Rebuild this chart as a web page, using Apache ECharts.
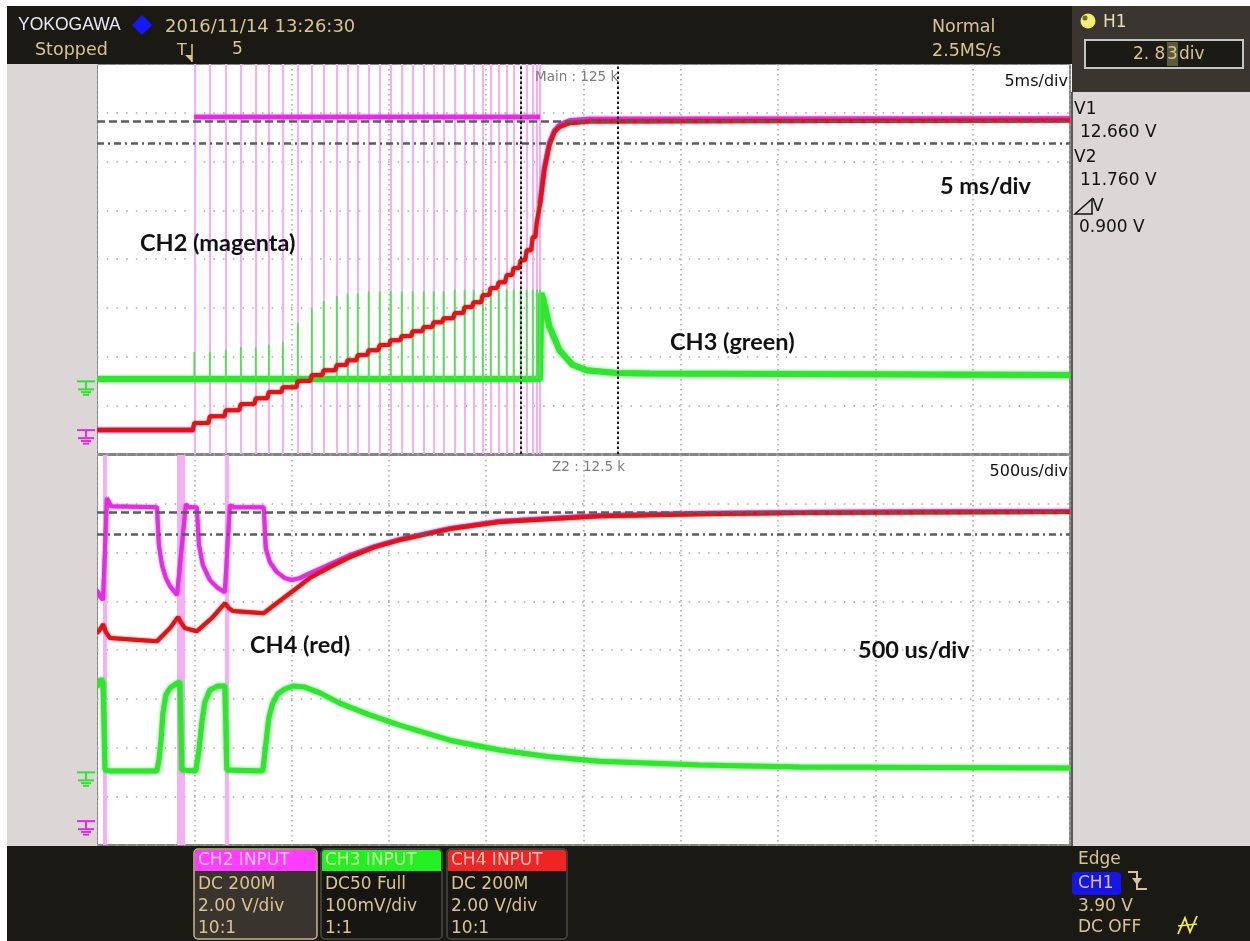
<!DOCTYPE html>
<html>
<head>
<meta charset="utf-8">
<script src="https://cdn.jsdelivr.net/npm/echarts/dist/echarts.min.js"></script>
<style>
  html, body { margin: 0; padding: 0; background: #ffffff; }
  #chart { width: 1250px; height: 941px; }
</style>
</head>
<body>
<div id="chart"></div>
<script>
// ---------------- Acquisition settings ----------------
const zoomStartMs = 16.75;          // zoom window (Z2) start, ms after trigger
const zoomEndMs = 21.75;            // zoom window end
const cursorV1 = 12.66;             // horizontal cursor V1
const cursorV2 = 11.76;             // horizontal cursor V2

// ---------------- Main window, 5 ms/div (time in ms after trigger) ----------------
// gate bursts on CH2
const mainBurstMs = [0.00, 0.80, 1.62, 2.39, 3.16, 3.83, 4.55, 5.32, 6.04, 6.65,
  7.32, 7.88, 8.40, 8.96, 9.53, 10.09, 10.66, 11.22, 11.79, 12.30,
  12.81, 13.38, 13.89, 14.35, 14.82, 15.23, 15.64, 16.05, 16.41, 16.77,
  17.08, 17.39, 17.60, 17.76];
// CH4 level reached at each burst (V)
const mainCh4StepV = [0.29, 0.57, 0.82, 1.07, 1.31, 1.56, 1.76, 2.01, 2.26, 2.46,
  2.67, 2.87, 3.08, 3.28, 3.49, 3.69, 3.86, 4.06, 4.23, 4.43,
  4.59, 4.80, 5.05, 5.25, 5.54, 5.83, 6.07, 6.36, 6.65, 6.97,
  7.38, 7.92, 8.53, 9.23];
// CH3 current spike at each burst (mV)
const mainCh3SpikeMv = [60, 60, 65, 70, 70, 75, 80, 120, 150, 165,
  175, 180, 180, 185, 185, 185, 185, 185, 185, 185,
  185, 188, 188, 188, 188, 188, 188, 188, 188, 188,
  188, 188, 188, 188];
const mainCh2HighV = 12.85;
const mainCh3BaseMv = 5;
// final settling after the last burst
const mainCh4SettleMs = [17.99, 18.25, 18.51, 18.76, 19.28, 20.30, 45.0];
const mainCh4SettleV = [10.67, 11.69, 12.23, 12.43, 12.59, 12.66, 12.70];
const mainCh2SettleMs = [17.76, 17.99, 18.25, 18.51, 18.76, 19.28, 20.30, 45.0];
const mainCh2SettleV = [9.30, 10.80, 11.80, 12.30, 12.52, 12.70, 12.76, 12.78];
const mainCh3DecayMs = [17.83, 17.94, 18.25, 18.76, 19.43, 20.15, 21.69, 23.38, 45.0];
const mainCh3DecayMv = [181, 167, 112, 64, 34, 23, 17, 16, 13];

// ---------------- Zoom window Z2, 500 us/div ----------------
const zoomBurstStartMs = [16.781, 17.161, 17.407];
const zoomBurstEndMs = [16.801, 17.202, 17.428];

const zoomCh2Ms = [16.750, 16.765, 16.781, 16.801, 16.822, 17.058, 17.068, 17.084, 17.104, 17.125,
  17.150, 17.161, 17.207, 17.222, 17.263, 17.274, 17.294, 17.330, 17.371, 17.407,
  17.433, 17.453, 17.607, 17.617, 17.638, 17.674, 17.715, 17.751, 17.792, 17.843,
  17.946, 18.049, 18.177, 18.305, 18.562, 18.819, 19.332, 19.845, 20.359, 20.872, 21.750];
const zoomCh2V = [9.48, 9.23, 9.07, 13.25, 12.92, 12.88, 11.32, 10.50, 9.97, 9.64,
  9.39, 9.27, 13.00, 12.88, 12.88, 11.32, 10.50, 9.89, 9.56, 9.39,
  12.96, 12.88, 12.88, 11.20, 10.63, 10.22, 9.97, 9.89, 9.97, 10.17,
  10.54, 10.91, 11.28, 11.57, 12.02, 12.31, 12.55, 12.64, 12.68, 12.70, 12.72];

const zoomCh4Ms = [16.750, 16.771, 16.781, 16.796, 16.817, 17.058, 17.125, 17.166, 17.181, 17.202,
  17.263, 17.340, 17.407, 17.428, 17.448, 17.607, 17.674, 17.776, 17.843, 17.946,
  18.049, 18.177, 18.305, 18.562, 18.819, 19.332, 19.845, 20.359, 20.872, 21.750];
const zoomCh4V = [7.71, 7.92, 8.08, 7.75, 7.51, 7.38, 7.92, 8.37, 8.16, 7.92,
  7.79, 8.33, 8.94, 8.74, 8.62, 8.53, 8.94, 9.56, 9.97, 10.42,
  10.83, 11.24, 11.53, 11.98, 12.27, 12.51, 12.59, 12.64, 12.66, 12.68];

const zoomCh3Ms = [16.750, 16.771, 16.781, 16.791, 16.817, 17.058, 17.068, 17.079, 17.089, 17.104,
  17.125, 17.161, 17.176, 17.186, 17.258, 17.274, 17.289, 17.304, 17.330, 17.371,
  17.407, 17.417, 17.602, 17.617, 17.633, 17.653, 17.679, 17.715, 17.756, 17.818,
  17.895, 17.997, 18.151, 18.305, 18.562, 18.819, 19.075, 19.332, 19.845, 20.359, 21.750];
const zoomCh3Mv = [175, 192, 185, 5, 3, 3, 25, 66, 122, 159,
  173, 183, 185, 5, 3, 46, 103, 144, 169, 177,
  177, 5, 3, 56, 112, 142, 161, 171, 177, 175,
  163, 142, 118, 97, 66, 46, 32, 23, 15, 11, 9];

// ---------------- Screen layout ----------------
const PLOT_L = 97, PLOT_W = 973, PLOT_H = 390;
const TOP_MAIN = 64, TOP_ZOOM = 455;
const DIVS_Y = 8, DIVS_X = 10;
const VOLT_PER_DIV = 2, MV_PER_DIV = 100;
const GND_CH24_DIV = 0.49, GND_CH3_DIV = 1.49;   // ground marker height above bottom, in divisions

const voltMin = -GND_CH24_DIV * VOLT_PER_DIV, voltMax = (DIVS_Y - GND_CH24_DIV) * VOLT_PER_DIV;
const mvMin = -GND_CH3_DIV * MV_PER_DIV, mvMax = (DIVS_Y - GND_CH3_DIV) * MV_PER_DIV;

const C_MAG = '#e42ce4', C_RED = '#e01414', C_GRN = '#2ee62e', C_PINK = '#f6aef6';
const TAN = '#d8c48e';
const PANEL_FONT = '"DejaVu Sans", sans-serif';

// ---------------- Traces built from the readings ----------------
const zip = (xs, ys) => xs.map((x, i) => [x, ys[i]]);

function mainCh4Trace() {
  const pts = [[-5, 0]];
  let prev = 0;
  mainBurstMs.forEach((t, i) => {
    pts.push([t - 0.08, prev], [t, mainCh4StepV[i]]);
    prev = mainCh4StepV[i];
  });
  return pts.concat(zip(mainCh4SettleMs, mainCh4SettleV));
}
function mainCh2Trace() {
  // the edges at the first and last burst are hidden under the burst lines
  const first = mainBurstMs[0], last = mainBurstMs[mainBurstMs.length - 1];
  const pts = [[-5, 0], [first, 0], [first, '-'], [first, mainCh2HighV], [last, mainCh2HighV], [last, '-']];
  return pts.concat(zip(mainCh2SettleMs, mainCh2SettleV));
}
function mainCh3Trace() {
  const last = mainBurstMs[mainBurstMs.length - 1];
  return [[-5, mainCh3BaseMv], [last, mainCh3BaseMv]].concat(zip(mainCh3DecayMs, mainCh3DecayMv));
}
function mainCh3Spikes() {
  const pts = [];
  mainBurstMs.forEach((t, i) => pts.push([t, mainCh3BaseMv], [t, mainCh3SpikeMv[i]], [t, '-']));
  return pts;
}

const noAxis = { axisLine: { show: false }, axisTick: { show: false }, axisLabel: { show: false }, splitLine: { show: false } };
const vDots = { show: true, lineStyle: { color: '#a8a8a8', width: 1.5, type: [1.5, 3.5] } };
const hDots = { show: true, lineStyle: { color: '#a8a8a8', width: 1.5, type: [1.5, 8.2] } };

function trace(xi, yi, data, color, width, z, blur) {
  return { type: 'line', xAxisIndex: xi, yAxisIndex: yi, data, symbol: 'none', showSymbol: false,
    lineStyle: { color, width, shadowColor: color, shadowBlur: blur || 0 }, itemStyle: { color }, z,
    clip: true, silent: true, animation: false, connectNulls: false };
}
function holder(xi, yi, x0, y0, z, extra) {
  return Object.assign({ type: 'line', xAxisIndex: xi, yAxisIndex: yi, data: [[x0, y0]], symbol: 'none',
    showSymbol: false, lineStyle: { opacity: 0 }, z, silent: true, animation: false }, extra);
}
function cursorMarks() {
  return { z: 9, symbol: ['none', 'none'], silent: true, label: { show: false }, animation: false,
    data: [
      { yAxis: cursorV1, lineStyle: { color: '#5a5e5b', width: 2.5, type: [8, 4] } },
      { yAxis: cursorV2, lineStyle: { color: '#5a5e5b', width: 2.5, type: [7, 4, 2, 4] } }
    ] };
}

const series = [
  // main window
  holder(0, 1, -5, 0, 1, { markLine: { z: 1, symbol: ['none', 'none'], silent: true, label: { show: false }, animation: false,
    lineStyle: { color: C_PINK, width: 2, type: 'solid' }, data: mainBurstMs.map(t => ({ xAxis: t })) } }),
  trace(0, 2, mainCh3Trace(), C_GRN, 6, 3, 3),
  trace(0, 2, mainCh3Spikes(), '#4ee44e', 1.8, 4),
  trace(0, 1, mainCh2Trace(), C_MAG, 4.5, 5, 2),
  trace(0, 1, mainCh4Trace(), C_RED, 4, 6, 2),
  holder(0, 1, -5, 0, 9, { markLine: cursorMarks() }),
  holder(0, 1, -5, 0, 9, { markLine: { z: 9, symbol: ['none', 'none'], silent: true, label: { show: false }, animation: false,
    lineStyle: { color: '#1a1a1a', width: 2, type: [2.5, 2.5] },
    data: [{ xAxis: zoomStartMs }, { xAxis: zoomEndMs }] } }),
  // zoom window
  holder(1, 4, zoomStartMs, 0, 1, { markArea: { z: 1, silent: true, animation: false, itemStyle: { color: C_PINK, opacity: 1 },
    data: zoomBurstStartMs.map((s, i) => [{ xAxis: s }, { xAxis: zoomBurstEndMs[i] }]) } }),
  trace(1, 5, zip(zoomCh3Ms, zoomCh3Mv), C_GRN, 5, 3, 3),
  trace(1, 4, zip(zoomCh2Ms, zoomCh2V), C_MAG, 4, 5, 2),
  trace(1, 4, zip(zoomCh4Ms, zoomCh4V), C_RED, 4, 6, 2),
  holder(1, 4, zoomStartMs, 0, 9, { markLine: cursorMarks() })
];

// ---------------- Instrument frame (text and panels) ----------------
function txt(x, y, text, o = {}) {
  return { type: 'text', x, y, silent: true, z: o.z || 100,
    style: { text, fill: o.fill || TAN, font: o.font || ('16px ' + PANEL_FONT),
      align: o.align || 'left', verticalAlign: 'middle', textAlign: o.align || 'left', textVerticalAlign: 'middle' } };
}
function rect(x, y, w, h, fill, o = {}) {
  return { type: 'rect', silent: true, z: o.z || 50, shape: { x, y, width: w, height: h, r: o.r || 0 },
    style: { fill, stroke: o.stroke || null, lineWidth: o.lw || 0 } };
}
function seg(pts, stroke, lw, z) {
  return { type: 'polyline', silent: true, z: z || 100, shape: { points: pts }, style: { stroke, lineWidth: lw, fill: null } };
}
function groundMark(y0, color) {
  return [
    seg([[77, y0], [95, y0]], color, 2),
    seg([[86, y0], [86, y0 + 8]], color, 2),
    seg([[78, y0 + 8], [94, y0 + 8]], color, 2),
    seg([[81, y0 + 10.8], [91, y0 + 10.8]], color, 2),
    seg([[83, y0 + 13.5], [89, y0 + 13.5]], color, 2)
  ];
}
const divPx = PLOT_H / DIVS_Y;
const gy = (top, div) => top + (DIVS_Y - div) * divPx;

function channelBox(x, w, title, head, headText, lines, active) {
  const els = [
    rect(x, 849, w, 90, active ? '#3a342e' : '#171612', { r: 4, stroke: active ? '#c9b68a' : '#4a4a46', lw: 1.5, z: 60 }),
    rect(x + 1, 850, w - 2, 21, head, { r: [3, 3, 0, 0], z: 61 }),
    txt(x + 4, 861, title, { fill: headText, font: '17px ' + PANEL_FONT })
  ];
  lines.forEach((s, i) => els.push(txt(x + 4, 885 + i * 22, s, { font: '17px ' + PANEL_FONT })));
  return els;
}

const annot = '700 23.5px Lato, "Open Sans", sans-serif';
const graphic = [
  // panels
  rect(7, 6, 1065, 58, '#1b1914'),
  rect(7, 64, 90, 782, '#dcd6d6'),
  rect(1072, 6, 178, 86, '#3b3530'),
  rect(1072, 92, 178, 754, '#dcd6d6'),
  seg([[1072, 92], [1072, 846]], '#5a5a5a', 2, 55),
  rect(7, 846, 1243, 95, '#1b1914'),

  // header
  txt(18, 25, 'YOKOGAWA', { fill: '#e8e8f4', font: '17.5px "Liberation Sans", Arial, sans-serif' }),
  { type: 'polygon', silent: true, z: 100, shape: { points: [[142, 15], [152, 25], [142, 35], [132, 25]] }, style: { fill: '#1717ff' } },
  txt(165, 27, '2016/11/14 13:26:30', { font: '18px ' + PANEL_FONT }),
  txt(35, 50, 'Stopped', { font: '17.5px ' + PANEL_FONT }),
  txt(177, 51, 'T', { font: '16px ' + PANEL_FONT }),
  seg([[192, 44], [192, 62]], TAN, 1.5),
  { type: 'polygon', silent: true, z: 100, shape: { points: [[185, 55], [192, 55], [192, 62]] }, style: { fill: TAN } },
  txt(232, 50, '5', { font: '17px ' + PANEL_FONT }),
  txt(932, 27, 'Normal', { font: '17.5px ' + PANEL_FONT }),
  txt(932, 51, '2.5MS/s', { font: '17.5px ' + PANEL_FONT }),

  // H1 readout
  { type: 'circle', silent: true, z: 100, shape: { cx: 1088, cy: 21, r: 7.5 }, style: { fill: '#f4ee72' } },
  { type: 'circle', silent: true, z: 101, shape: { cx: 1085, cy: 18, r: 2.5 }, style: { fill: '#6b6b2a' } },
  txt(1103, 23, 'H1', { fill: '#e6dfb4', font: '17px ' + PANEL_FONT }),
  rect(1085, 40, 158, 28, '#1c1a15', { stroke: '#c4c4c4', lw: 2, z: 60 }),
  rect(1167, 42, 11, 24, '#5b5a3b', { z: 61 }),
  txt(1133, 55, '2. 8', { font: '17px ' + PANEL_FONT }),
  txt(1167, 55, '3', { font: '17px ' + PANEL_FONT }),
  txt(1179, 55, 'div', { font: '17px ' + PANEL_FONT }),

  // cursor readout
  txt(1074, 110, 'V1', { fill: '#111', font: '17px ' + PANEL_FONT }),
  txt(1080, 133, cursorV1.toFixed(3) + ' V', { fill: '#111', font: '17px ' + PANEL_FONT }),
  txt(1074, 158, 'V2', { fill: '#111', font: '17px ' + PANEL_FONT }),
  txt(1080, 181, cursorV2.toFixed(3) + ' V', { fill: '#111', font: '17px ' + PANEL_FONT }),
  { type: 'polygon', silent: true, z: 100, shape: { points: [[1075, 214], [1092, 199], [1092, 214]] }, style: { fill: null, stroke: '#111', lineWidth: 1.5 } },
  txt(1092, 207, 'V', { fill: '#111', font: '17px ' + PANEL_FONT }),
  txt(1079, 228, (cursorV1 - cursorV2).toFixed(3) + ' V', { fill: '#111', font: '17px ' + PANEL_FONT }),

  // in-plot labels
  txt(535, 77, 'Main : 125 k', { fill: '#7c7c7c', font: '13.5px ' + PANEL_FONT }),
  txt(552, 467, 'Z2 : 12.5 k', { fill: '#7c7c7c', font: '13.5px ' + PANEL_FONT }),
  txt(1068, 82, '5ms/div', { fill: '#111', font: '16px ' + PANEL_FONT, align: 'right' }),
  txt(1068, 472, '500us/div', { fill: '#111', font: '16px ' + PANEL_FONT, align: 'right' }),
  txt(140, 243, 'CH2 (magenta)', { fill: '#111', font: annot }),
  txt(670, 342, 'CH3 (green)', { fill: '#111', font: annot }),
  txt(940, 186, '5 ms/div', { fill: '#111', font: annot }),
  txt(250, 645, 'CH4 (red)', { fill: '#111', font: annot }),
  txt(858, 650, '500 us/div', { fill: '#111', font: annot }),

  // ground markers
  ...groundMark(gy(TOP_MAIN, GND_CH3_DIV), C_GRN),
  ...groundMark(gy(TOP_MAIN, GND_CH24_DIV), C_MAG),
  ...groundMark(gy(TOP_ZOOM, GND_CH3_DIV), C_GRN),
  ...groundMark(gy(TOP_ZOOM, GND_CH24_DIV), C_MAG),

  // channel setup boxes
  ...channelBox(194, 123, 'CH2 INPUT', '#ff3cff', '#ffc8fb', ['DC 200M', '2.00 V/div', '10:1'], true),
  ...channelBox(321, 121, 'CH3 INPUT', '#22f022', '#d4ffa8', ['DC50 Full', '100mV/div', '1:1'], false),
  ...channelBox(447, 120, 'CH4 INPUT', '#f02424', '#ffcab8', ['DC 200M', '2.00 V/div', '10:1'], false),

  // trigger settings
  txt(1078, 860, 'Edge', { font: '17px ' + PANEL_FONT }),
  rect(1072, 872, 49, 23, '#1515ea', { r: 4, z: 60 }),
  txt(1078, 884, 'CH1', { font: '17px ' + PANEL_FONT }),
  seg([[1128, 872], [1137, 872], [1137, 889], [1147, 889]], TAN, 2),
  { type: 'polygon', silent: true, z: 100, shape: { points: [[1132, 878], [1142, 878], [1137, 885]] }, style: { fill: TAN } },
  txt(1078, 907, '3.90 V', { font: '17px ' + PANEL_FONT }),
  txt(1078, 928, 'DC OFF', { font: '17px ' + PANEL_FONT }),
  seg([[1178, 934], [1185, 918], [1190, 932], [1197, 916]], '#f2f040', 1.8),
  seg([[1178, 926], [1197, 924]], '#f2f040', 1.5)
];

const option = {
  backgroundColor: '#ffffff',
  animation: false,
  grid: [
    { left: PLOT_L, top: TOP_MAIN, width: PLOT_W, height: PLOT_H, show: true, backgroundColor: '#ffffff', borderColor: '#858585', borderWidth: 2 },
    { left: PLOT_L, top: TOP_ZOOM, width: PLOT_W, height: PLOT_H, show: true, backgroundColor: '#ffffff', borderColor: '#858585', borderWidth: 2 }
  ],
  xAxis: [
    Object.assign({ gridIndex: 0, type: 'value', min: -5, max: 45 }, noAxis),
    Object.assign({ gridIndex: 1, type: 'value', min: zoomStartMs, max: zoomEndMs }, noAxis),
    Object.assign({ gridIndex: 0, type: 'value', min: 0, max: DIVS_X, interval: 1 }, noAxis, { splitLine: vDots }),
    Object.assign({ gridIndex: 1, type: 'value', min: 0, max: DIVS_X, interval: 1 }, noAxis, { splitLine: vDots })
  ],
  yAxis: [
    Object.assign({ gridIndex: 0, type: 'value', min: 0, max: DIVS_Y, interval: 1 }, noAxis, { splitLine: hDots }),
    Object.assign({ gridIndex: 0, type: 'value', min: voltMin, max: voltMax }, noAxis),
    Object.assign({ gridIndex: 0, type: 'value', min: mvMin, max: mvMax }, noAxis),
    Object.assign({ gridIndex: 1, type: 'value', min: 0, max: DIVS_Y, interval: 1 }, noAxis, { splitLine: hDots }),
    Object.assign({ gridIndex: 1, type: 'value', min: voltMin, max: voltMax }, noAxis),
    Object.assign({ gridIndex: 1, type: 'value', min: mvMin, max: mvMax }, noAxis)
  ],
  series,
  graphic
};

const chart = echarts.init(document.getElementById('chart'), null, { renderer: 'canvas' });
chart.setOption(option);
</script>
</body>
</html>
